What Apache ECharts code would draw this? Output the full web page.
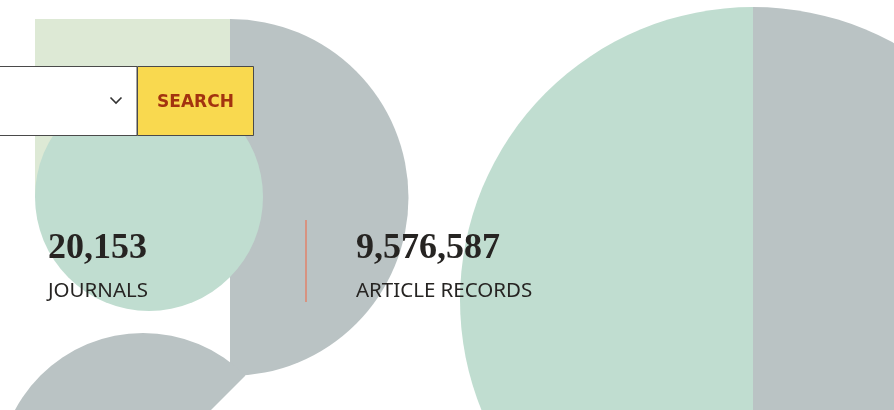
<!DOCTYPE html>
<html>
<head>
<meta charset="utf-8">
<style>
  html, body { margin: 0; padding: 0; background: #ffffff; }
  #chart { width: 894px; height: 410px; }
</style>
<script src="https://cdn.jsdelivr.net/npm/echarts@6/dist/echarts.min.js"></script>
</head>
<body>
<div id="chart"></div>
<script>
// Data
var statValues = ['20,153', '9,576,587'];
var statLabels = ['JOURNALS', 'ARTICLE RECORDS'];
var buttonLabel = ['SEARCH'];

var chart = echarts.init(document.getElementById('chart'), null, { renderer: 'canvas', width: 894, height: 410 });

var C_LIGHT = '#dde9d5';
var C_MINT = '#c0ddd0';
var C_GRAY = '#bac3c4';
var C_YELLOW = '#f9d94f';
var C_RED = '#a3330f';
var C_TEXT = '#262422';

var statX = [48, 356];
var elements = [];

// Decorative shapes
elements.push({ type: 'rect', z: 1, shape: { x: 35, y: 19, width: 195, height: 178 }, style: { fill: C_LIGHT } });
elements.push({ type: 'sector', z: 2, shape: { cx: 230, cy: 197.5, r: 178.5, r0: 0, startAngle: -Math.PI / 2, endAngle: Math.PI / 2, clockwise: true }, style: { fill: C_GRAY } });
elements.push({ type: 'circle', z: 3, shape: { cx: 149, cy: 197, r: 114 }, style: { fill: C_MINT } });
elements.push({ type: 'sector', z: 2, shape: { cx: 143, cy: 478, r: 145, r0: 0, startAngle: Math.PI * 3 / 4, endAngle: Math.PI * 7 / 4, clockwise: true }, style: { fill: C_GRAY } });
elements.push({ type: 'sector', z: 2, shape: { cx: 753, cy: 300, r: 293, r0: 0, startAngle: Math.PI / 2, endAngle: Math.PI * 3 / 2, clockwise: true }, style: { fill: C_MINT } });
elements.push({ type: 'sector', z: 2, shape: { cx: 753, cy: 300, r: 293, r0: 0, startAngle: -Math.PI / 2, endAngle: Math.PI / 2, clockwise: true }, style: { fill: C_GRAY } });

// Search box
elements.push({ type: 'rect', z: 10, shape: { x: -2, y: 66.5, width: 139, height: 69 }, style: { fill: '#ffffff', stroke: '#4a4a4a', lineWidth: 1 } });
elements.push({ type: 'rect', z: 10, shape: { x: 137.5, y: 66.5, width: 116, height: 69 }, style: { fill: C_YELLOW, stroke: '#4a4a4a', lineWidth: 1 } });
elements.push({ type: 'polyline', z: 11, shape: { points: [[110.5, 97.5], [116, 103], [121.5, 97.5]] }, style: { stroke: '#333333', lineWidth: 1.6, fill: null } });
elements.push({ type: 'text', z: 11, x: 195.5, y: 102.5, style: { text: buttonLabel[0], fill: C_RED, font: 'bold 17px "DejaVu Sans"', align: 'center', verticalAlign: 'middle' } });

// Stats
statValues.forEach(function (v, i) {
  elements.push({ type: 'text', z: 12, x: statX[i], y: 231, style: { text: v, fill: C_TEXT, font: 'bold 36px "Liberation Serif"', align: 'left', verticalAlign: 'top' } });
  elements.push({ type: 'text', z: 12, x: statX[i], y: 280.5, style: { text: statLabels[i], fill: C_TEXT, font: '20.5px "Noto Sans"', align: 'left', verticalAlign: 'top' } });
});
elements.push({ type: 'line', z: 12, shape: { x1: 306, y1: 220, x2: 306, y2: 302 }, style: { stroke: '#e0836b', lineWidth: 1.5 } });

chart.setOption({
  animation: false,
  backgroundColor: '#ffffff',
  graphic: { elements: elements }
});
</script>
</body>
</html>
